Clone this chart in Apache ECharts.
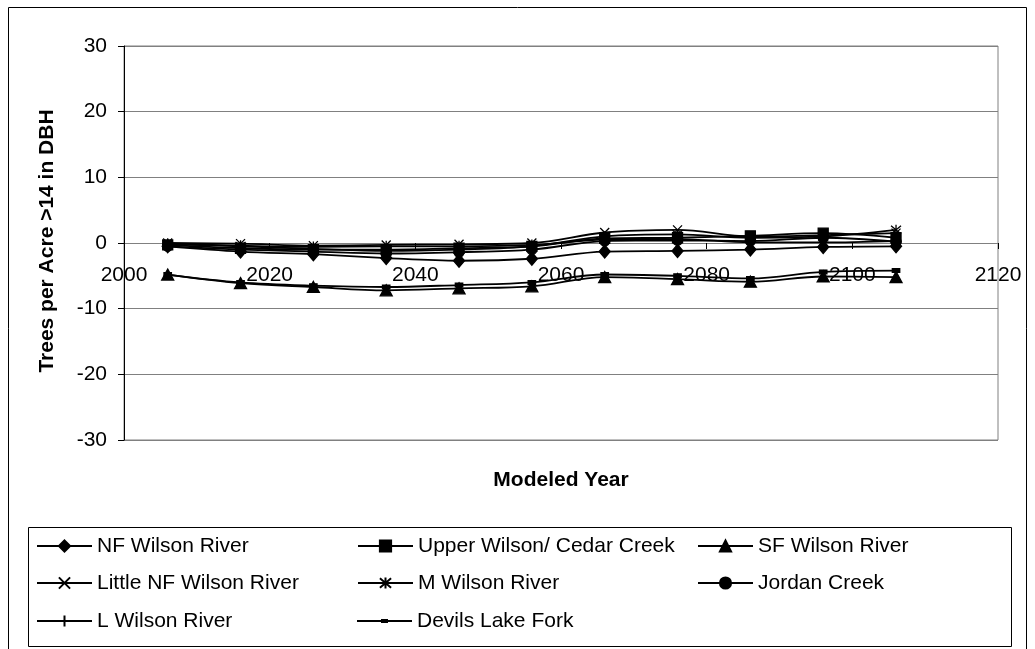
<!DOCTYPE html>
<html>
<head>
<meta charset="utf-8">
<script src="https://cdn.jsdelivr.net/npm/echarts@6/dist/echarts.min.js"></script>
<style>
  html, body { margin: 0; padding: 0; background: #fff; }
  #chart { width: 1035px; height: 649px; }
</style>
</head>
<body>
<div id="chart"></div>
<script>
// Modeled years (x values)
const years = [2006, 2016, 2026, 2036, 2046, 2056, 2066, 2076, 2086, 2096, 2106];

// Change in trees per acre >14 in DBH, per watershed
const nfWilson      = [-0.5, -1.3, -1.7, -2.3, -2.7, -2.4, -1.3, -1.2, -1.0, -0.6, -0.5];
const upperWilson   = [-0.3, -0.8, -1.0, -1.0, -0.8, -0.5,  0.7,  0.8,  1.1,  1.5,  0.8];
const sfWilson      = [-4.8, -6.1, -6.7, -7.2, -6.9, -6.6, -5.2, -5.5, -5.9, -5.1, -5.2];
const littleNfWilson= [ 0.0, -0.1, -0.4, -0.3, -0.2,  0.0,  1.6,  2.0,  1.0,  1.2,  1.5];
const mWilson       = [-0.2, -0.5, -0.9, -1.2, -1.0, -0.5,  1.0,  1.3,  0.8,  1.0,  2.0];
const jordanCreek   = [-0.5, -1.0, -1.3, -1.6, -1.4, -1.0,  0.3,  0.4,  0.3,  0.8,  0.2];
const lWilson       = [-0.1, -0.4, -0.6, -0.5, -0.5, -0.3,  0.5,  0.6,  0.1,  0.1,  0.3];
const devilsLake    = [-4.8, -6.0, -6.5, -6.7, -6.4, -6.0, -4.8, -5.0, -5.4, -4.4, -4.2];

// Series names in legend order
const names = [
  'NF Wilson River', 'Upper Wilson/ Cedar Creek', 'SF Wilson River',
  'Little NF Wilson River', 'M Wilson River', 'Jordan Creek',
  'L Wilson River', 'Devils Lake Fork'
];
const values = [nfWilson, upperWilson, sfWilson, littleNfWilson, mWilson, jordanCreek, lWilson, devilsLake];

// Axis ticks
const xMin = 2000, xMax = 2120, xStep = 20;
const yMin = -30, yMax = 30, yStep = 10;

// Grid box (pixels)
const gridLeft = 124, gridRight = 37, gridTop = 46, gridBottom = 209;
const gridHeight = 649 - gridTop - gridBottom;
// x axis sits on the y = 0 line
const xAxisOffset = -gridHeight * (0 - yMin) / (yMax - yMin);

// Marker shapes
const symbols = [
  { symbol: 'diamond', size: [11, 13] },
  { symbol: 'rect', size: 10 },
  { symbol: 'triangle', size: [12, 11] },
  { symbol: 'path://M0,0L10,10M10,0L0,10', size: 9 },
  { symbol: 'path://M0,0L10,10M10,0L0,10M5,-1L5,11', size: 10 },
  { symbol: 'circle', size: 10 },
  { symbol: 'path://M5,0L5,10M0,5L10,5', size: 11 },
  { symbol: 'rect', size: [7, 4] }
];
// Legend icon for the small dash marker: line plus a small block, padded to the icon box
const dashIcon = 'path://M0,0L0.01,0L0.01,0.01Z M55,14L54.99,14L54.99,13.99Z ' +
                 'M0,6L55,6L55,8L0,8Z M24,5L31,5L31,9L24,9Z';

const FONT = "'Liberation Sans', Arial, sans-serif";

const series = names.map((name, i) => ({
  name: name,
  type: 'line',
  smooth: 0.35,
  data: years.map((y, k) => [y, values[i][k]]),
  symbol: symbols[i].symbol,
  symbolSize: symbols[i].size,
  showAllSymbol: true,
  lineStyle: { color: '#000', width: 1.8 },
  itemStyle: { color: '#000', borderColor: '#000', borderWidth: 1.3 },
  emphasis: { disabled: true },
  z: 3 + i
}));

// Legend: 3 columns x 3 rows
const colX = [36, 357, 697];
const rowY = [546, 583, 621];
const legends = names.map((name, i) => ({
  data: [i === 7 ? { name: name, icon: dashIcon, itemStyle: { borderWidth: 0 } } : name],
  left: colX[i % 3],
  top: rowY[Math.floor(i / 3)] - 12,
  itemWidth: 55,
  itemHeight: 14,
  selectedMode: false,
  padding: 0,
  textStyle: { fontFamily: FONT, fontSize: 21, color: '#000', lineHeight: 24 }
}));

const chart = echarts.init(document.getElementById('chart'), null, { renderer: 'canvas' });
chart.setOption({
  animation: false,
  backgroundColor: '#fff',
  grid: {
    left: gridLeft, right: gridRight, top: gridTop, bottom: gridBottom,
    show: true, borderColor: '#808080', borderWidth: 1, backgroundColor: 'transparent'
  },
  xAxis: {
    type: 'value',
    min: xMin, max: xMax, interval: xStep,
    offset: xAxisOffset,
    axisLine: { show: true, onZero: false, lineStyle: { color: '#808080', width: 1 } },
    axisTick: { show: true, inside: false, length: 6, lineStyle: { color: '#000' } },
    axisLabel: { margin: 22, color: '#000', fontFamily: FONT, fontSize: 21,
                 formatter: v => String(v) },
    splitLine: { show: false }
  },
  yAxis: {
    type: 'value',
    min: yMin, max: yMax, interval: yStep,
    axisLine: { show: true, onZero: false, lineStyle: { color: '#000', width: 1 } },
    axisTick: { show: true, inside: false, length: 6, lineStyle: { color: '#000' } },
    axisLabel: { margin: 17, color: '#000', fontFamily: FONT, fontSize: 21 },
    splitLine: { show: true, lineStyle: { color: '#808080', width: 1 } }
  },
  legend: legends,
  graphic: [
    { type: 'rect', shape: { x: 8.5, y: 7.5, width: 1018, height: 660 },
      style: { fill: 'none', stroke: '#000', lineWidth: 1 }, silent: true, z: 0 },
    { type: 'rect', shape: { x: 28.5, y: 527.5, width: 983, height: 119 },
      style: { fill: '#fff', stroke: '#000', lineWidth: 1 }, silent: true, z: 0 },
    { type: 'text', x: 561, y: 480,
      style: { text: 'Modeled Year', x: 0, y: 0, fill: '#000', font: "bold 21px " + FONT,
               textAlign: 'center', textVerticalAlign: 'middle' }, silent: true },
    { type: 'text', x: 47, y: 241, rotation: Math.PI / 2,
      style: { text: 'Trees per Acre >14 in DBH', x: 0, y: 0, fill: '#000', font: "bold 21px " + FONT,
               textAlign: 'center', textVerticalAlign: 'middle' }, silent: true }
  ],
  series: series
});
</script>
</body>
</html>
